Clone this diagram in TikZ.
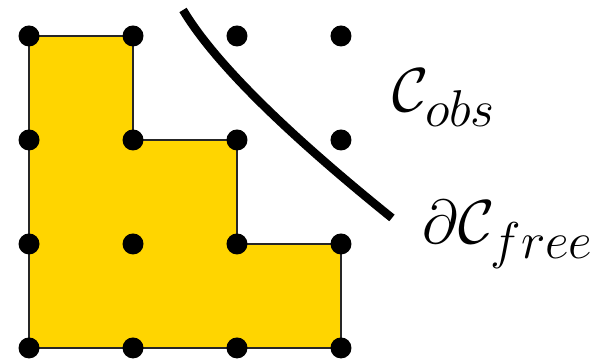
\documentclass[tikz,border=0pt]{standalone}
\usepackage{amsmath, amssymb}
\usepackage{xcolor}
\usepackage{tikz}
\definecolor{freeyellow}{RGB}{255, 213, 0}
\definecolor{gridblack}{RGB}{0, 0, 0}

\begin{document}
\begin{tikzpicture}[x=2.08cm, y=2.08cm, every node/.style={font=\Huge}]

\useasboundingbox (-0.279,-0.125) rectangle (5.51,3.346);

% Free region
\fill[freeyellow] (0,0) -- (0,3) -- (1,3) -- (1,2) -- (2,2) -- (2,1) -- (3,1) -- (3,0) -- cycle;
\draw[line width=1.2pt,black!85] (0,0) -- (0,3) -- (1,3) -- (1,2) -- (2,2) -- (2,1) -- (3,1) -- (3,0) -- cycle;

% Grid points
\foreach \i in {0,...,3} {
  \foreach \j in {0,...,3} {
    \node[circle,fill=gridblack,inner sep=0pt,minimum size=0.42cm] (p\i\j) at (\i,\j) {};
  }
}

% Boundary of the free space
\coordinate (bstart) at (1.481,3.25);
\coordinate (bend) at (3.490,1.25);
\draw[line width=4.8pt] (bstart) .. controls (1.774,2.76) and (2.444,2.093) .. (bend);

% Labels
\node[anchor=base west,inner sep=0pt,scale=1.42] (cobs) at (3.49,2.27) {$\mathcal{C}_{obs}$};
\node[anchor=base west,inner sep=0pt,scale=1.42] (cfree) at (3.78,1.0) {$\partial\mathcal{C}_{free}$};

\end{tikzpicture}
\end{document}
